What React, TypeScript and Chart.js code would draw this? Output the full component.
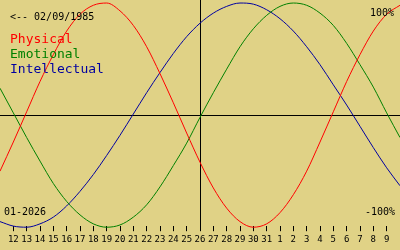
import React, { useEffect, useRef } from "react";
import { Chart, registerables } from "chart.js";

Chart.register(...registerables);

// Day labels (Jan 11 .. Feb 10, 2026); first and last only extend the curves to the edges
const days = [
  "11", "12", "13", "14", "15", "16", "17", "18", "19", "20", "21", "22", "23", "24", "25", "26",
  "27", "28", "29", "30", "31", "1", "2", "3", "4", "5", "6", "7", "8", "9", "10",
];

const physical = [
  -0.5, -0.24, 0.03, 0.3, 0.54, 0.75, 0.9, 0.98, 1.0, 0.93, 0.8, 0.61, 0.37, 0.11, -0.16, -0.42,
  -0.65, -0.83, -0.95, -1.0, -0.97, -0.87, -0.71, -0.5, -0.24, 0.03, 0.3, 0.54, 0.75, 0.9, 0.98,
];

const emotional = [
  0.24, 0.02, -0.2, -0.41, -0.61, -0.77, -0.89, -0.97, -1.0, -0.98, -0.91, -0.8, -0.64, -0.45,
  -0.25, -0.02, 0.2, 0.41, 0.61, 0.77, 0.89, 0.97, 1.0, 0.98, 0.91, 0.8, 0.64, 0.45, 0.25, 0.02, -0.2,
];

const intellectual = [
  -0.95, -0.99, -1.0, -0.97, -0.91, -0.81, -0.68, -0.53, -0.36, -0.18, 0.01, 0.2, 0.38, 0.55,
  0.7, 0.82, 0.91, 0.97, 1.0, 0.99, 0.94, 0.86, 0.75, 0.61, 0.45, 0.27, 0.09, -0.1, -0.29, -0.47, -0.63,
];

const seriesNames = ["Physical", "Emotional", "Intellectual"];
const seriesColors = ["#ff0000", "#008000", "#0000a0"];
const birthLabel = "<-- 02/09/1985";
const monthLabel = "01-2026";
const topLabel = "100%";
const bottomLabel = "-100%";
const todayIndex = days.indexOf("26");

const BG = "#e0d286";
const MONO = "'DejaVu Sans Mono', monospace";

const textPlugin = {
  id: "textOverlay",
  afterDraw(chart: any) {
    const ctx = chart.ctx;
    ctx.save();
    ctx.textBaseline = "alphabetic";
    ctx.fillStyle = "#000000";
    ctx.font = `10px ${MONO}`;
    ctx.textAlign = "left";
    ctx.fillText(birthLabel, 10, 20);
    ctx.fillText(monthLabel, 4, 215);
    ctx.textAlign = "right";
    ctx.fillText(topLabel, 394, 16);
    ctx.fillText(bottomLabel, 395, 215);
    ctx.textAlign = "left";
    ctx.font = `13px ${MONO}`;
    seriesNames.forEach((n, i) => {
      ctx.fillStyle = seriesColors[i];
      ctx.fillText(n, 10, 42.5 + i * 15);
    });
    ctx.restore();
  },
};

export default function App() {
  const ref = useRef<HTMLCanvasElement | null>(null);
  useEffect(() => {
    if (!ref.current) return;
    const values = [physical, emotional, intellectual];
    const chart = new Chart(ref.current, {
      type: "line",
      data: {
        labels: days,
        datasets: values.map((v, i) => ({
          label: seriesNames[i],
          data: v,
          borderColor: seriesColors[i],
          borderWidth: 1,
          pointRadius: 0,
          cubicInterpolationMode: "monotone" as const,
          clip: false as any,
        })),
      },
      options: {
        animation: false,
        responsive: true,
        maintainAspectRatio: false,
        layout: { padding: { left: 0, right: 0, top: 0, bottom: 2 } },
        plugins: { legend: { display: false }, tooltip: { enabled: false } },
        events: [],
        scales: {
          x: {
            type: "category",
            offset: false,
            border: { display: false },
            afterFit: (s: any) => {
              s.paddingLeft = 0;
              s.paddingRight = 0;
            },
            grid: {
              display: true,
              drawOnChartArea: true,
              tickLength: 5,
              lineWidth: 1,
              color: (c: any) => (c.index === todayIndex ? "#000000" : "rgba(0,0,0,0)"),
              tickColor: (c: any) =>
                c.index === 0 || c.index === days.length - 1 ? "rgba(0,0,0,0)" : "#000000",
            },
            ticks: {
              autoSkip: false,
              maxRotation: 0,
              minRotation: 0,
              padding: 3,
              color: "#000000",
              font: { family: "DejaVu Sans Mono", size: 9 },
              callback: (_v: any, i: number) =>
                i === 0 || i === days.length - 1 ? "" : days[i],
            },
          },
          y: {
            type: "linear",
            min: -0.991,
            max: 1.027,
            display: true,
            border: { display: false },
            ticks: { display: false },
            grid: { drawTicks: false, color: "#000000", lineWidth: 1 },
            afterFit: (s: any) => {
              s.width = 0;
              s.paddingTop = 0;
              s.paddingBottom = 0;
            },
            afterBuildTicks: (s: any) => {
              s.ticks = [{ value: 0 }];
            },
          },
        },
      },
      plugins: [textPlugin],
    });
    return () => chart.destroy();
  }, []);
  return (
    <div
      style={{
        position: "fixed",
        left: 0,
        top: 0,
        width: 400,
        height: 250,
        background: BG,
      }}
    >
      <canvas ref={ref} />
    </div>
  );
}
